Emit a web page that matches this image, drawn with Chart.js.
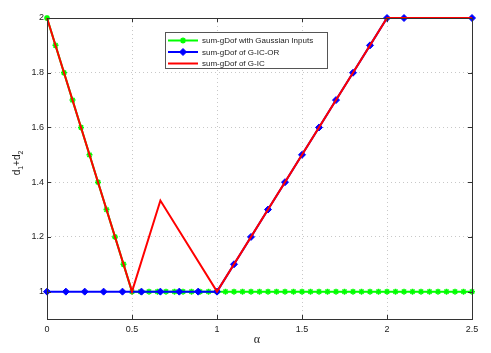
<!DOCTYPE html>
<html>
<head>
<meta charset="utf-8">
<script src="https://cdn.jsdelivr.net/npm/chart.js@4"></script>
<style>
  body { margin: 0; background: #fff; }
</style>
</head>
<body>
<canvas id="graficoGdof" width="491" height="353"></canvas>
<script>
// dados
const gaussX = [0, 0.05, 0.1, 0.15, 0.2, 0.25, 0.3, 0.35, 0.4, 0.45, 0.5, 0.55, 0.6, 0.65, 0.7, 0.75, 0.8, 0.85, 0.9, 0.95,
  1, 1.05, 1.1, 1.15, 1.2, 1.25, 1.3, 1.35, 1.4, 1.45, 1.5, 1.55, 1.6, 1.65, 1.7, 1.75, 1.8, 1.85, 1.9, 1.95,
  2, 2.05, 2.1, 2.15, 2.2, 2.25, 2.3, 2.35, 2.4, 2.45, 2.5];
const gaussY = [2, 1.9, 1.8, 1.7, 1.6, 1.5, 1.4, 1.3, 1.2, 1.1, 1, 1, 1, 1, 1, 1, 1, 1, 1, 1,
  1, 1, 1, 1, 1, 1, 1, 1, 1, 1, 1, 1, 1, 1, 1, 1, 1, 1, 1, 1,
  1, 1, 1, 1, 1, 1, 1, 1, 1, 1, 1];
const orX = [0, 0.111, 0.222, 0.333, 0.444, 0.556, 0.667, 0.778, 0.889, 1,
  1.1, 1.2, 1.3, 1.4, 1.5, 1.6, 1.7, 1.8, 1.9, 2, 2.1, 2.5];
const orY = [1, 1, 1, 1, 1, 1, 1, 1, 1, 1,
  1.1, 1.2, 1.3, 1.4, 1.5, 1.6, 1.7, 1.8, 1.9, 2, 2, 2];
const icX = [0, 0.5, 0.667, 1, 2, 2.5];
const icY = [2, 1, 1.333, 1, 2, 2];
const xTicks = [0, 0.5, 1, 1.5, 2, 2.5];
const yTicks = [1, 1.2, 1.4, 1.6, 1.8, 2];
const rotulos = ['sum-gDof with Gaussian Inputs', 'sum-gDof of G-IC-OR', 'sum-gDof of G-IC'];

function pontos(xs, ys) {
  return xs.map((x, i) => ({ x: x, y: ys[i] }));
}

const fonte = 'Liberation Sans, Arial, sans-serif';

// moldura, marcas de escala, legenda e títulos dos eixos
const extras = {
  id: 'extras',
  afterDraw(chart) {
    const ctx = chart.ctx;
    const a = chart.chartArea;
    const sx = chart.scales.x, sy = chart.scales.y;
    ctx.save();
    ctx.strokeStyle = '#333';
    ctx.lineWidth = 1;
    ctx.strokeRect(Math.round(a.left) + 0.5, Math.round(a.top) + 0.5, Math.round(a.right - a.left), Math.round(a.bottom - a.top));
    ctx.beginPath();
    xTicks.forEach(v => {
      const px = Math.round(sx.getPixelForValue(v)) + 0.5;
      ctx.moveTo(px, a.bottom); ctx.lineTo(px, a.bottom - 4);
      ctx.moveTo(px, a.top); ctx.lineTo(px, a.top + 4);
    });
    yTicks.forEach(v => {
      const py = Math.round(sy.getPixelForValue(v)) + 0.5;
      ctx.moveTo(a.left, py); ctx.lineTo(a.left + 4, py);
      ctx.moveTo(a.right, py); ctx.lineTo(a.right - 4, py);
    });
    ctx.stroke();

    // legenda
    const lx = 165, ly = 32, lw = 162, lh = 36;
    ctx.fillStyle = '#fff';
    ctx.fillRect(lx, ly, lw, lh);
    ctx.strokeStyle = '#555';
    ctx.strokeRect(lx + 0.5, ly + 0.5, lw, lh);
    ctx.font = '8px ' + fonte;
    ctx.textBaseline = 'middle';
    ctx.textAlign = 'left';
    chart.data.datasets.forEach((ds, i) => {
      const ry = ly + 8.5 + i * 11.5;
      ctx.strokeStyle = ds.borderColor;
      ctx.lineWidth = 2;
      ctx.beginPath();
      ctx.moveTo(168, ry); ctx.lineTo(198, ry);
      ctx.stroke();
      if (ds.pointRadius > 0) {
        ctx.fillStyle = ds.pointBackgroundColor;
        ctx.strokeStyle = ds.pointBorderColor;
        ctx.lineWidth = ds.pointBorderWidth;
        ctx.beginPath();
        Chart.helpers.drawPoint(ctx, {
          pointStyle: ds.pointStyle, radius: ds.pointRadius, borderWidth: ds.pointBorderWidth, rotation: 0
        }, 183, ry);
      }
      ctx.fillStyle = '#222';
      ctx.fillText(ds.label, 202, ry + 0.5);
    });

    // título do eixo x
    ctx.fillStyle = '#222';
    ctx.font = '12px Liberation Serif, serif';
    ctx.textAlign = 'center';
    ctx.textBaseline = 'middle';
    ctx.fillText('α', 257, 340);

    // título do eixo y com índices
    ctx.translate(20, 163);
    ctx.rotate(-Math.PI / 2);
    ctx.textBaseline = 'alphabetic';
    ctx.textAlign = 'left';
    const partes = [['d', 10, 0], ['1', 7, 3], ['+d', 10, 0], ['2', 7, 3]];
    let total = 0;
    partes.forEach(p => { ctx.font = p[1] + 'px ' + fonte; total += ctx.measureText(p[0]).width; });
    let cx = -total / 2;
    partes.forEach(p => {
      ctx.font = p[1] + 'px ' + fonte;
      ctx.fillText(p[0], cx, p[2]);
      cx += ctx.measureText(p[0]).width;
    });
    ctx.restore();
  }
};

const rotuloTick = v => String(Math.round(v * 10) / 10);

new Chart(document.getElementById('graficoGdof'), {
  type: 'scatter',
  data: {
    datasets: [{
      label: rotulos[0],
      data: pontos(gaussX, gaussY),
      showLine: true,
      clip: false,
      borderColor: '#00ff00',
      borderWidth: 2,
      pointStyle: 'star',
      pointRadius: 3,
      pointBorderWidth: 1.5,
      pointBorderColor: '#00ff00',
      pointBackgroundColor: '#00ff00',
      order: 3
    }, {
      label: rotulos[1],
      data: pontos(orX, orY),
      showLine: true,
      clip: false,
      borderColor: '#0000ff',
      borderWidth: 2,
      pointStyle: 'rectRot',
      pointRadius: 3.5,
      pointBorderWidth: 1,
      pointBorderColor: '#0000ff',
      pointBackgroundColor: '#0000ff',
      order: 2
    }, {
      label: rotulos[2],
      data: pontos(icX, icY),
      showLine: true,
      clip: false,
      borderColor: '#ff0000',
      borderWidth: 2,
      pointRadius: 0,
      order: 1
    }]
  },
  options: {
    responsive: false,
    animation: false,
    layout: { padding: { top: 18, right: 19, left: 0, bottom: 0 } },
    plugins: {
      legend: { display: false },
      tooltip: { enabled: false }
    },
    scales: {
      x: {
        type: 'linear',
        min: 0,
        max: 2.5,
        afterBuildTicks: s => { s.ticks = xTicks.map(v => ({ value: v })); },
        afterFit: s => { s.height = 34; },
        ticks: { font: { size: 9, family: fonte }, color: '#222', padding: 5, maxRotation: 0, callback: rotuloTick },
        grid: { color: '#c8c8c8', drawTicks: false },
        border: { display: false, dash: [1, 3] }
      },
      y: {
        min: 0.9,
        max: 2,
        afterBuildTicks: s => { s.ticks = yTicks.map(v => ({ value: v })); },
        afterFit: s => { s.width = 47; },
        ticks: { font: { size: 9, family: fonte }, color: '#222', padding: 3, callback: rotuloTick },
        grid: { color: '#c8c8c8', drawTicks: false },
        border: { display: false, dash: [1, 3] }
      }
    }
  },
  plugins: [extras]
});
</script>
</body>
</html>
